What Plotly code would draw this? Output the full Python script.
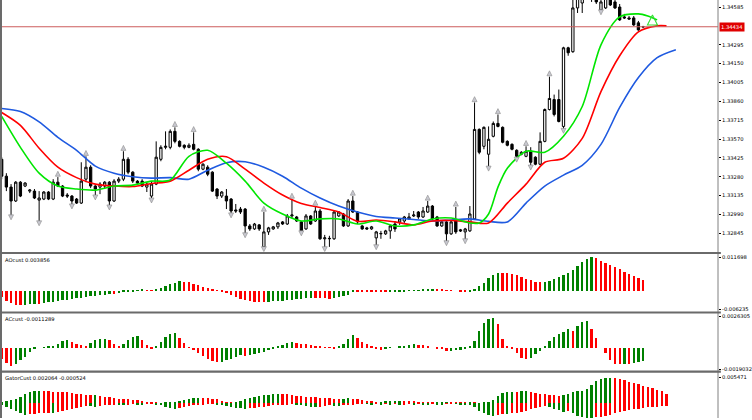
import numpy as np
import plotly.graph_objects as go

# ---- candles, one per bar ----
open_ = [
    1.33414, 1.33284, 1.33200, 1.33093, 1.33238, 1.33208, 1.33169, 1.33169, 1.33100, 1.33108,
    1.33162, 1.33108, 1.33238, 1.33208, 1.33139, 1.33131, 1.33108, 1.33077, 1.33261, 1.33353,
    1.33208, 1.33200, 1.33208, 1.33238, 1.33093, 1.33246, 1.33261, 1.33414, 1.33315, 1.33246,
    1.33246, 1.33200, 1.33131, 1.33223, 1.33414, 1.33506, 1.33506, 1.33629, 1.33552, 1.33522,
    1.33506, 1.33529, 1.33491, 1.33338, 1.33353, 1.33315, 1.33185, 1.33131, 1.33131, 1.33108,
    1.33024, 1.33031, 1.33031, 1.32901, 1.32878, 1.32909, 1.32740, 1.32855, 1.32878, 1.32894,
    1.32932, 1.32916, 1.32978, 1.32970, 1.32932, 1.32878, 1.32978, 1.32939, 1.33016, 1.32802,
    1.32802, 1.32802, 1.32978, 1.32993, 1.32901, 1.33093, 1.33008, 1.32901, 1.32886, 1.32878,
    1.32809, 1.32840, 1.32840, 1.32863, 1.32916, 1.32932, 1.32939, 1.32955, 1.32978, 1.33008,
    1.32970, 1.33008, 1.33054, 1.32970, 1.32901, 1.32932, 1.32840, 1.32939, 1.32871, 1.32855,
    1.32863, 1.32955, 1.33644, 1.33514, 1.33453, 1.33591, 1.33690, 1.33660, 1.33552, 1.33529,
    1.33483, 1.33453, 1.33437, 1.33476, 1.33430, 1.33376, 1.33552, 1.33797, 1.33874, 1.33874,
    1.33667, 1.34272, 1.34242, 1.34579, 1.34617, 1.34701, 1.34655, 1.34678, 1.34563, 1.34579,
    1.34655, 1.34625, 1.34586, 1.34510, 1.34502, 1.34502, 1.34464, 1.34433]
high = [
    1.33430, 1.33307, 1.33223, 1.33246, 1.33246, 1.33238, 1.33185, 1.33185, 1.33169, 1.33169,
    1.33169, 1.33261, 1.33277, 1.33215, 1.33154, 1.33139, 1.33116, 1.33391, 1.33437, 1.33368,
    1.33215, 1.33238, 1.33246, 1.33246, 1.33261, 1.33277, 1.33476, 1.33430, 1.33322, 1.33254,
    1.33261, 1.33231, 1.33246, 1.33552, 1.33522, 1.33629, 1.33644, 1.33660, 1.33560, 1.33529,
    1.33537, 1.33621, 1.33499, 1.33384, 1.33368, 1.33322, 1.33192, 1.33169, 1.33185, 1.33116,
    1.33070, 1.33047, 1.33039, 1.32916, 1.32924, 1.32916, 1.33008, 1.32894, 1.32901, 1.32932,
    1.32939, 1.32993, 1.33108, 1.32978, 1.32939, 1.32993, 1.32985, 1.33054, 1.33031, 1.32832,
    1.32825, 1.33016, 1.33016, 1.33001, 1.33108, 1.33131, 1.33016, 1.32909, 1.32894, 1.32901,
    1.32863, 1.32863, 1.32871, 1.32909, 1.32939, 1.32962, 1.32978, 1.33001, 1.33016, 1.33016,
    1.33047, 1.33093, 1.33062, 1.32978, 1.32939, 1.32939, 1.32939, 1.33047, 1.32878, 1.32886,
    1.33054, 1.33851, 1.33652, 1.33667, 1.33667, 1.33705, 1.33759, 1.33667, 1.33560, 1.33537,
    1.33491, 1.33476, 1.33514, 1.33507, 1.33437, 1.33621, 1.33805, 1.34050, 1.33912, 1.33951,
    1.34280, 1.34280, 1.34640, 1.34717, 1.34755, 1.34732, 1.34755, 1.34717, 1.34640, 1.34701,
    1.34678, 1.34640, 1.34609, 1.34533, 1.34517, 1.34517, 1.34479, 1.34441]
low = [
    1.33261, 1.33169, 1.32978, 1.33085, 1.33123, 1.33200, 1.33154, 1.33108, 1.32932, 1.33100,
    1.33100, 1.33100, 1.33200, 1.33123, 1.33116, 1.33062, 1.33070, 1.33070, 1.33238, 1.33192,
    1.33131, 1.33146, 1.33185, 1.33054, 1.33085, 1.33231, 1.33246, 1.33299, 1.33231, 1.33215,
    1.33200, 1.33162, 1.33108, 1.33215, 1.33399, 1.33491, 1.33491, 1.33537, 1.33506, 1.33491,
    1.33499, 1.33483, 1.33322, 1.33330, 1.33284, 1.33162, 1.33108, 1.33116, 1.33031, 1.32993,
    1.33001, 1.32993, 1.32840, 1.32863, 1.32871, 1.32863, 1.32733, 1.32832, 1.32871, 1.32878,
    1.32909, 1.32909, 1.32962, 1.32932, 1.32855, 1.32871, 1.32909, 1.32932, 1.32794, 1.32733,
    1.32740, 1.32794, 1.32970, 1.32894, 1.32894, 1.33001, 1.32916, 1.32871, 1.32871, 1.32871,
    1.32748, 1.32802, 1.32832, 1.32802, 1.32855, 1.32909, 1.32924, 1.32947, 1.32970, 1.32955,
    1.32962, 1.33001, 1.32947, 1.32894, 1.32894, 1.32779, 1.32832, 1.32840, 1.32855, 1.32794,
    1.32855, 1.32947, 1.33453, 1.33491, 1.33353, 1.33583, 1.33660, 1.33537, 1.33514, 1.33483,
    1.33422, 1.33445, 1.33430, 1.33361, 1.33368, 1.33368, 1.33545, 1.33790, 1.33744, 1.33698,
    1.33644, 1.34211, 1.34234, 1.34540, 1.34540, 1.34640, 1.34625, 1.34609, 1.34556, 1.34571,
    1.34594, 1.34571, 1.34479, 1.34494, 1.34487, 1.34441, 1.34403, 1.34426]
close = [
    1.33284, 1.33200, 1.33093, 1.33238, 1.33131, 1.33231, 1.33177, 1.33116, 1.33116, 1.33162,
    1.33108, 1.33238, 1.33208, 1.33131, 1.33131, 1.33093, 1.33077, 1.33246, 1.33353, 1.33208,
    1.33185, 1.33223, 1.33238, 1.33093, 1.33246, 1.33261, 1.33414, 1.33315, 1.33246, 1.33231,
    1.33208, 1.33223, 1.33223, 1.33430, 1.33506, 1.33514, 1.33629, 1.33552, 1.33514, 1.33506,
    1.33522, 1.33491, 1.33338, 1.33376, 1.33299, 1.33169, 1.33131, 1.33162, 1.33093, 1.33016,
    1.33016, 1.33008, 1.32901, 1.32878, 1.32916, 1.32878, 1.32855, 1.32886, 1.32894, 1.32924,
    1.32916, 1.32978, 1.32985, 1.32939, 1.32863, 1.32978, 1.32916, 1.33016, 1.32802, 1.32809,
    1.32805, 1.33008, 1.33008, 1.32901, 1.33093, 1.33008, 1.32932, 1.32878, 1.32878, 1.32894,
    1.32855, 1.32843, 1.32863, 1.32901, 1.32878, 1.32955, 1.32970, 1.32970, 1.32985, 1.32970,
    1.33016, 1.33054, 1.32955, 1.32901, 1.32932, 1.32840, 1.32932, 1.32855, 1.32863, 1.32878,
    1.32993, 1.33644, 1.33468, 1.33660, 1.33568, 1.33690, 1.33667, 1.33545, 1.33522, 1.33491,
    1.33437, 1.33468, 1.33476, 1.33391, 1.33376, 1.33552, 1.33797, 1.33882, 1.33759, 1.33705,
    1.34272, 1.34234, 1.34579, 1.34678, 1.34701, 1.34663, 1.34717, 1.34625, 1.34625, 1.34655,
    1.34602, 1.34579, 1.34487, 1.34502, 1.34494, 1.34448, 1.34410, 1.34434]

fractal_up = [12, 18, 26, 37, 41, 56, 62, 67, 75, 91, 97, 101, 106, 112, 117]
fractal_dn = [2, 8, 15, 20, 23, 32, 49, 52, 56, 64, 69, 80, 95, 99, 104, 110, 113, 120, 128]

signal_x = [139]
signal_y = [1.34525]

# ---- alligator (read every few bars, shifted forward past the last candle) ----
jaw_x = [0, 4, 8, 12, 16, 20, 24, 28, 32, 36, 40, 44, 48, 52, 56, 60, 64, 68, 72,
         76, 80, 84, 88, 92, 96, 100, 104, 108, 112, 116, 120, 124, 128, 132, 136, 140, 144]
jaw = [1.33805, 1.33782, 1.33702, 1.33583, 1.33483, 1.33361, 1.33307, 1.33280, 1.33269,
       1.33273, 1.33261, 1.33330, 1.33388, 1.33395, 1.33353, 1.33284, 1.33192, 1.33116,
       1.33054, 1.33008, 1.32974, 1.32962, 1.32951, 1.32939, 1.32947, 1.32955, 1.32936,
       1.32932, 1.33077, 1.33208, 1.33292, 1.33368, 1.33529, 1.33813, 1.34043, 1.34196, 1.34257]
teeth_x = [0, 4, 8, 12, 16, 20, 24, 28, 32, 36, 40, 44, 48, 52, 56, 60, 64, 68, 72,
           76, 80, 84, 88, 92, 96, 100, 104, 108, 112, 116, 120, 124, 128, 132, 136, 140, 142]
teeth = [1.33774, 1.33675, 1.33499, 1.33353, 1.33273, 1.33223, 1.33208, 1.33204, 1.33227,
         1.33246, 1.33330, 1.33414, 1.33434, 1.33338, 1.33231, 1.33139, 1.33074, 1.33043,
         1.33008, 1.32936, 1.32947, 1.32932, 1.32909, 1.32939, 1.32943, 1.32932, 1.32924,
         1.33077, 1.33223, 1.33391, 1.33422, 1.33575, 1.33935, 1.34211, 1.34395, 1.34441, 1.34441]
lips_x = [0, 4, 8, 12, 16, 20, 24, 28, 32, 36, 40, 44, 48, 52, 56, 60, 64, 68, 72, 76,
          80, 84, 88, 92, 96, 100, 102, 104, 106, 108, 112, 116, 120, 124, 128, 132, 136, 138, 140]
lips = [1.33744, 1.33506, 1.33307, 1.33208, 1.33185, 1.33177, 1.33208, 1.33215, 1.33246,
        1.33254, 1.33437, 1.33483, 1.33384, 1.33246, 1.33077, 1.32993, 1.32939, 1.32955,
        1.32955, 1.32916, 1.32939, 1.32901, 1.32909, 1.32955, 1.32962, 1.32924, 1.32924,
        1.32993, 1.33200, 1.33345, 1.33476, 1.33468, 1.33591, 1.33820, 1.34295, 1.34510,
        1.34533, 1.34517, 1.34487]

# ---- oscillators ----
ao = [
    -0.00230, -0.00345, -0.00414, -0.00483, -0.00506, -0.00495, -0.00472, -0.00449, -0.00460, -0.00426,
    -0.00403, -0.00380, -0.00357, -0.00334, -0.00311, -0.00288, -0.00265, -0.00242, -0.00219, -0.00196,
    -0.00173, -0.00150, -0.00127, -0.00104, -0.00115, -0.00081, -0.00046, -0.00023, -0.00012, 0.00012,
    0.00035, 0.00023, 0.00012, 0.00035, 0.00092, 0.00161, 0.00230, 0.00288, 0.00334, 0.00322,
    0.00299, 0.00253, 0.00207, 0.00150, 0.00092, 0.00046, 0.00012, -0.00035, -0.00092, -0.00161,
    -0.00219, -0.00276, -0.00322, -0.00357, -0.00380, -0.00391, -0.00403, -0.00380, -0.00368, -0.00357,
    -0.00345, -0.00322, -0.00311, -0.00288, -0.00276, -0.00253, -0.00242, -0.00253, -0.00259, -0.00265,
    -0.00270, -0.00242, -0.00219, -0.00184, -0.00127, -0.00012, -0.00017, -0.00023, -0.00029, -0.00035,
    -0.00040, -0.00046, -0.00052, -0.00040, -0.00029, -0.00017, -0.00006, 0.00006, 0.00017, 0.00029,
    0.00040, 0.00052, 0.00058, 0.00046, 0.00035, 0.00023, 0.00012, 0.00000, -0.00012, -0.00017,
    -0.00006, 0.00058, 0.00161, 0.00288, 0.00437, 0.00564, 0.00633, 0.00621, 0.00610, 0.00598,
    0.00552, 0.00495, 0.00426, 0.00368, 0.00322, 0.00299, 0.00311, 0.00357, 0.00414, 0.00483,
    0.00552, 0.00633, 0.00725, 0.00863, 0.00989, 0.01093, 0.011698, 0.01127, 0.01047, 0.00966,
    0.00897, 0.00828, 0.00748, 0.00667, 0.00587, 0.00500, 0.00440, 0.003856]
ac = [
    -0.00097, -0.00131, -0.00160, -0.00143, -0.00103, -0.00080, -0.00034, -0.00006, 0.00000, 0.00003,
    0.00006, 0.00014, 0.00034, 0.00057, 0.00063, 0.00051, 0.00034, 0.00023, 0.00014, 0.00040,
    0.00063, 0.00074, 0.00077, 0.00063, 0.00034, 0.00009, 0.00029, 0.00063, 0.00091, 0.00100,
    0.00063, 0.00023, -0.00011, 0.00014, 0.00051, 0.00091, 0.00114, 0.00125, 0.00086, 0.00040,
    0.00003, -0.00023, -0.00043, -0.00071, -0.00094, -0.00114, -0.00128, -0.00125, -0.00111, -0.00094,
    -0.00077, -0.00068, -0.00071, -0.00063, -0.00054, -0.00046, -0.00037, -0.00023, -0.00009, 0.00006,
    0.00020, 0.00037, 0.00048, 0.00043, 0.00034, 0.00029, 0.00023, 0.00014, 0.00009, 0.00003,
    -0.00003, -0.00006, 0.00006, 0.00029, 0.00074, 0.00108, 0.00086, 0.00051, 0.00029, 0.00011,
    -0.00014, -0.00017, -0.00009, -0.00003, 0.00000, 0.00006, 0.00014, 0.00023, 0.00029, 0.00026,
    0.00020, 0.00009, 0.00000, -0.00006, -0.00014, -0.00029, -0.00026, -0.00023, -0.00017, -0.00011,
    0.00006, 0.00057, 0.00143, 0.00214, 0.00242, 0.00251, 0.00200, 0.00071, 0.00009, -0.00014,
    -0.00051, -0.00086, -0.00094, -0.00086, -0.00057, -0.00029, 0.00006, 0.00057, 0.00094, 0.00114,
    0.00134, 0.00157, 0.00143, 0.00185, 0.00222, 0.00225, 0.00157, 0.00080, 0.00000, -0.00043,
    -0.00103, -0.00140, -0.00143, -0.00137, -0.00140, -0.00131, -0.00123, -0.0011289]
gator_up = [
    0.00021, 0.00043, 0.00071, 0.00099, 0.00142, 0.00199, 0.00234, 0.00256, 0.00263, 0.00259,
    0.00256, 0.00252, 0.00249, 0.00241, 0.00234, 0.00220, 0.00206, 0.00192, 0.00178, 0.00170,
    0.00174, 0.00156, 0.00142, 0.00128, 0.00107, 0.00099, 0.00092, 0.00085, 0.00078, 0.00071,
    0.00057, 0.00036, 0.00021, 0.00014, 0.00007, 0.00014, 0.00021, 0.00036, 0.00050, 0.00071,
    0.00092, 0.00107, 0.00121, 0.00117, 0.00114, 0.00099, 0.00085, 0.00057, 0.00021, 0.00014,
    0.00028, 0.00057, 0.00085, 0.00114, 0.00142, 0.00163, 0.00178, 0.00185, 0.00192, 0.00199,
    0.00195, 0.00192, 0.00178, 0.00163, 0.00149, 0.00142, 0.00135, 0.00128, 0.00121, 0.00114,
    0.00107, 0.00099, 0.00092, 0.00099, 0.00114, 0.00099, 0.00085, 0.00071, 0.00057, 0.00043,
    0.00028, 0.00036, 0.00043, 0.00046, 0.00050, 0.00053, 0.00050, 0.00046, 0.00043, 0.00039,
    0.00036, 0.00028, 0.00025, 0.00028, 0.00032, 0.00036, 0.00032, 0.00028, 0.00025, 0.00021,
    0.00025, 0.00014, 0.00007, 0.00021, 0.00036, 0.00071, 0.00156, 0.00213, 0.00241, 0.00249,
    0.00241, 0.00256, 0.00263, 0.00234, 0.00213, 0.00199, 0.00192, 0.00185, 0.00170, 0.00156,
    0.00178, 0.00206, 0.00234, 0.00256, 0.00263, 0.00312, 0.00391, 0.00476, 0.00511, 0.00533,
    0.005471, 0.00533, 0.00525, 0.00497, 0.00462, 0.00433, 0.00405, 0.00376, 0.00348, 0.00320,
    0.00291, 0.00263, 0.002064]
gator_dn = [
    -0.00043, -0.00085, -0.00128, -0.00170, -0.00213, -0.00249, -0.00234, -0.00227, -0.00213, -0.00206,
    -0.00199, -0.00206, -0.00192, -0.00170, -0.00142, -0.00114, -0.00092, -0.00071, -0.00057, -0.00064,
    -0.00071, -0.00050, -0.00036, -0.00028, -0.00021, -0.00025, -0.00028, -0.00021, -0.00014, -0.00018,
    -0.00021, -0.00014, -0.00011, -0.00021, -0.00043, -0.00071, -0.00099, -0.00121, -0.00107, -0.00085,
    -0.00057, -0.00043, -0.00028, -0.00021, -0.00014, -0.00011, -0.00021, -0.00043, -0.00064, -0.00078,
    -0.00092, -0.00107, -0.00114, -0.00107, -0.00099, -0.00085, -0.00071, -0.00057, -0.00043, -0.00036,
    -0.00028, -0.00021, -0.00014, -0.00021, -0.00036, -0.00057, -0.00071, -0.00078, -0.00071, -0.00057,
    -0.00043, -0.00050, -0.00057, -0.00043, -0.00028, -0.00021, -0.00014, -0.00011, -0.00014, -0.00021,
    -0.00014, -0.00021, -0.00014, -0.00021, -0.00014, -0.00021, -0.00018, -0.00014, -0.00021, -0.00014,
    -0.00018, -0.00021, -0.00014, -0.00018, -0.00021, -0.00014, -0.00011, -0.00014, -0.00018, -0.00021,
    -0.00036, -0.00085, -0.00156, -0.00213, -0.00256, -0.00270, -0.00249, -0.00227, -0.00234, -0.00213,
    -0.00199, -0.00178, -0.00156, -0.00128, -0.00099, -0.00071, -0.00064, -0.00085, -0.00114, -0.00142,
    -0.00185, -0.00156, -0.00213, -0.00270, -0.00298, -0.00320, -0.00327, -0.00298, -0.00284, -0.00263,
    -0.00241, -0.00213, -0.00192, -0.00170, -0.00149, -0.00128, -0.00114, -0.00099, -0.00085, -0.00078,
    -0.00071, -0.00064, -0.000524]

price_ticks = [1.34585, 1.34295, 1.34150, 1.34005, 1.33860, 1.33715, 1.33570,
               1.33425, 1.33280, 1.33135, 1.32990, 1.32845]
ao_ticks = [0.011698, -0.006235]
ac_ticks = [0.0026305, -0.0019032]
gator_ticks = [0.005471]

GREEN = '#008000'
RED = '#ff0000'
FONT = 'DejaVu Sans'
FS = 5.2


def trend_colors(vals, first):
    cols = [first]
    for a, b in zip(vals[:-1], vals[1:]):
        cols.append(GREEN if b > a else RED)
    return cols


bars = np.arange(len(close))
gbars = np.arange(len(gator_up))

fig = go.Figure()

fig.add_trace(go.Candlestick(
    x=bars, open=open_, high=high, low=low, close=close,
    increasing=dict(line=dict(color='black', width=1), fillcolor='white'),
    decreasing=dict(line=dict(color='black', width=1), fillcolor='black'),
    whiskerwidth=0, hoverinfo='skip', showlegend=False))

for xs, ys, col in [(jaw_x, jaw, '#1f5ae0'), (teeth_x, teeth, '#ff0000'), (lips_x, lips, '#00e600')]:
    fig.add_trace(go.Scatter(x=xs, y=ys, mode='lines',
                             line=dict(color=col, width=1.6, shape='spline', smoothing=0.8),
                             hoverinfo='skip', showlegend=False))

fig.add_trace(go.Scatter(
    x=fractal_up, y=[high[i] + 0.00045 for i in fractal_up], mode='markers',
    marker=dict(symbol='arrow-up', size=5, color='#c8c8d0', line=dict(color='#8a8a8a', width=0.6)),
    hoverinfo='skip', showlegend=False))
fig.add_trace(go.Scatter(
    x=fractal_dn, y=[low[i] - 0.0003 for i in fractal_dn], mode='markers',
    marker=dict(symbol='arrow-down', size=5, color='#c8c8d0', line=dict(color='#8a8a8a', width=0.6)),
    hoverinfo='skip', showlegend=False))
fig.add_trace(go.Scatter(
    x=signal_x, y=signal_y, mode='markers',
    marker=dict(symbol='arrow-up-open', size=10, color='#33dd33', line=dict(width=1.1)),
    hoverinfo='skip', showlegend=False))

fig.add_trace(go.Bar(x=bars, y=ao, marker=dict(color=trend_colors(ao, RED), line_width=0),
                     width=0.5, yaxis='y2', hoverinfo='skip', showlegend=False))
fig.add_trace(go.Bar(x=bars, y=ac, marker=dict(color=trend_colors(ac, RED), line_width=0),
                     width=0.5, yaxis='y3', hoverinfo='skip', showlegend=False))
fig.add_trace(go.Bar(x=gbars, y=gator_up, marker=dict(color=trend_colors(gator_up, GREEN), line_width=0),
                     width=0.5, yaxis='y4', hoverinfo='skip', showlegend=False))
fig.add_trace(go.Bar(x=gbars, y=gator_dn,
                     marker=dict(color=trend_colors([abs(v) for v in gator_dn], GREEN), line_width=0),
                     width=0.5, yaxis='y4', hoverinfo='skip', showlegend=False))

H = 420.0


def dom(top_px, bot_px):
    return [1 - bot_px / H, 1 - top_px / H]


def yax(domain, rng, vals, fmt):
    return dict(domain=domain, range=rng, side='right', anchor='x',
                tickvals=vals, ticktext=[fmt.format(v) for v in vals],
                ticks='outside', ticklen=2, tickcolor='black', tickwidth=1,
                showgrid=False, zeroline=False, showline=False,
                tickfont=dict(family=FONT, size=FS, color='black'))


last = close[-1]
fig.update_layout(
    width=752, height=420,
    margin=dict(l=0, r=31, t=0, b=0),
    paper_bgcolor='white', plot_bgcolor='white',
    barmode='overlay', bargap=0, hovermode=False, showlegend=False,
    xaxis=dict(domain=[0, 1], range=[-0.36, 153.0], visible=False,
               rangeslider=dict(visible=False)),
    yaxis=yax(dom(0, 253), [1.32702, 1.34640], price_ticks, '{:.5f}'),
    yaxis2=yax(dom(255.5, 313), [-0.00707, 0.01277], ao_ticks, '{:.6f}'),
    yaxis3=yax(dom(315, 372), [-0.00199, 0.00288], ac_ticks, '{:.7f}'),
    yaxis4=yax(dom(374.5, 420), [-0.0032, 0.0065], gator_ticks, '{:.6f}'),
    font=dict(family=FONT, size=FS, color='black'),
)

shapes = [
    dict(type='line', xref='paper', yref='y', x0=0, x1=1, y0=last, y1=last,
         line=dict(color='#cc5c5c', width=1)),
    dict(type='line', xref='paper', yref='paper', x0=1, x1=1, y0=0, y1=1,
         line=dict(color='#808080', width=1)),
    dict(type='line', xref='paper', yref='paper', x0=1 / 721, x1=1 / 721, y0=0, y1=1,
         line=dict(color='#6a6a6a', width=2)),
]
for ypx in (254.2, 314, 373.4):
    shapes.append(dict(type='line', xref='paper', yref='paper', x0=0, x1=1.004,
                       y0=1 - ypx / H, y1=1 - ypx / H, line=dict(color='#6a6a6a', width=2.2)))
fig.update_layout(shapes=shapes)

annotations = [
    dict(xref='paper', yref='y', x=1, y=last, xanchor='left', xshift=1,
         text='{:.5f}'.format(last), showarrow=False, bgcolor='#e00000',
         font=dict(family=FONT, size=FS, color='white'), borderpad=1),
]
labels = [
    (256, 'AOcust {:.6f}'.format(ao[-1])),
    (315.5, 'ACcust {:.7f}'.format(ac[-1])),
    (375, 'GatorCust {:.6f} {:.6f}'.format(gator_up[-1], gator_dn[-1])),
]
for ypx, txt in labels:
    annotations.append(dict(xref='paper', yref='paper', x=0, y=1 - ypx / H,
                            xanchor='left', yanchor='top', xshift=3, text=txt,
                            showarrow=False, font=dict(family=FONT, size=FS, color='black')))
fig.update_layout(annotations=annotations)

# the page has no body margin so the 752x420 figure fills the window exactly
fig.write_html("out.html", config={'displayModeBar': False},
               post_script="document.body.style.margin='0';")
